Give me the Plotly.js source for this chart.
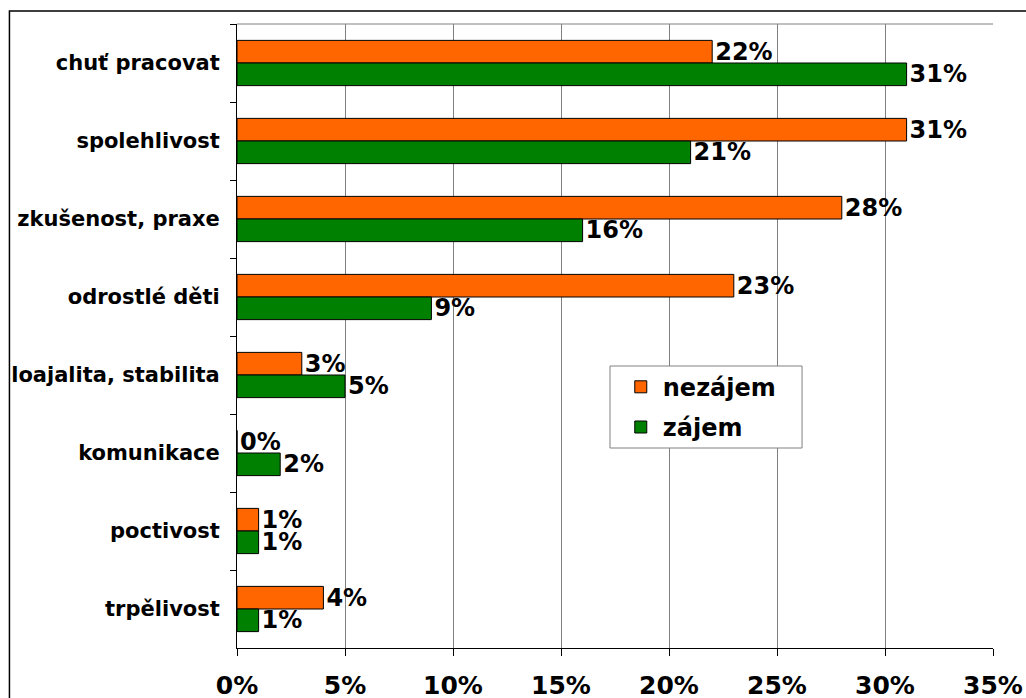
<!DOCTYPE html>
<html>
<head>
<meta charset="utf-8">
<script src="https://cdn.plot.ly/plotly-3.0.1.min.js"></script>
<style>
  html, body { margin: 0; padding: 0; background: #fff; }
  #chart { width: 1026px; height: 698px; }
</style>
</head>
<body>
<div id="chart"></div>
<script>
var categories = ['chuť pracovat', 'spolehlivost', 'zkušenost, praxe', 'odrostlé děti',
                  'loajalita, stabilita', 'komunikace', 'poctivost', 'trpělivost'];
var nezajem = [22, 31, 28, 23, 3, 0, 1, 4];
var zajem = [31, 21, 16, 9, 5, 2, 1, 1];
var xTicks = [0, 5, 10, 15, 20, 25, 30, 35];
var xTickLabels = ['0%', '5%', '10%', '15%', '20%', '25%', '30%', '35%'];

var boldFont = {family: 'DejaVu Sans, Verdana, sans-serif', weight: 'bold', color: '#000'};

function pct(arr) {
  return arr.map(function (v) { return v + '%'; });
}

var trace1 = {
  y: categories,
  x: nezajem,
  name: 'nezájem',
  legendgroup: 'a',
  type: 'bar',
  orientation: 'h',
  marker: {color: '#FF6600', line: {color: '#000', width: 1}},
  text: pct(nezajem),
  textposition: 'outside',
  constraintext: 'none',
  textfont: Object.assign({size: 24}, boldFont),
  cliponaxis: false,
  hoverinfo: 'none'
};

var trace2 = {
  y: categories,
  x: zajem,
  name: 'zájem',
  legendgroup: 'b',
  type: 'bar',
  orientation: 'h',
  marker: {color: '#008000', line: {color: '#000', width: 1}},
  text: pct(zajem),
  textposition: 'outside',
  constraintext: 'none',
  textfont: Object.assign({size: 24}, boldFont),
  cliponaxis: false,
  hoverinfo: 'none'
};

var layout = {
  width: 1026,
  height: 698,
  margin: {l: 237, r: 33, t: 24, b: 50},
  paper_bgcolor: '#fff',
  plot_bgcolor: '#fff',
  barmode: 'group',
  bargap: 0.42,
  bargroupgap: 0,
  showlegend: true,
  legend: {
    x: 0.505, y: 0.454, xanchor: 'left', yanchor: 'top',
    borderwidth: 0,
    bgcolor: 'rgba(0,0,0,0)',
    font: Object.assign({size: 24}, boldFont),
    itemwidth: 34,
    traceorder: 'grouped',
    tracegroupgap: 6
  },
  xaxis: {
    range: [0, 35],
    tickvals: xTicks,
    ticktext: xTickLabels,
    showgrid: true,
    gridcolor: '#808080',
    gridwidth: 1,
    zeroline: false,
    showline: true,
    linecolor: '#000',
    linewidth: 1,
    ticks: 'outside',
    ticklen: 7,
    tickcolor: '#000',
    ticklabelstandoff: 8,
    tickfont: Object.assign({size: 25}, boldFont),
    fixedrange: true
  },
  yaxis: {
    autorange: 'reversed',
    showgrid: false,
    zeroline: false,
    showline: true,
    linecolor: '#000',
    linewidth: 1,
    ticks: 'outside',
    tickson: 'boundaries',
    ticklen: 6,
    tickcolor: '#000',
    ticklabelstandoff: 12,
    tickfont: Object.assign({size: 21}, boldFont),
    fixedrange: true
  },
  shapes: [
    // plot area border (top) in grey
    {type: 'line', xref: 'paper', yref: 'paper', x0: 0, x1: 1, y0: 1, y1: 1,
     line: {color: '#808080', width: 1}},
    // legend box
    {type: 'rect', xref: 'paper', yref: 'paper', x0: 0.4934, x1: 0.7474, y0: 0.3205, y1: 0.4519,
     fillcolor: '#fff', line: {color: '#808080', width: 1}, layer: 'above'},
    // outer chart frame
    {type: 'rect', xref: 'paper', yref: 'paper', x0: -0.301, x1: 1.2, y0: -0.3, y1: 1.021,
     line: {color: '#000', width: 1.5}, layer: 'below'}
  ]
};

Plotly.newPlot('chart', [trace1, trace2], layout, {displayModeBar: false, staticPlot: true});
</script>
</body>
</html>
